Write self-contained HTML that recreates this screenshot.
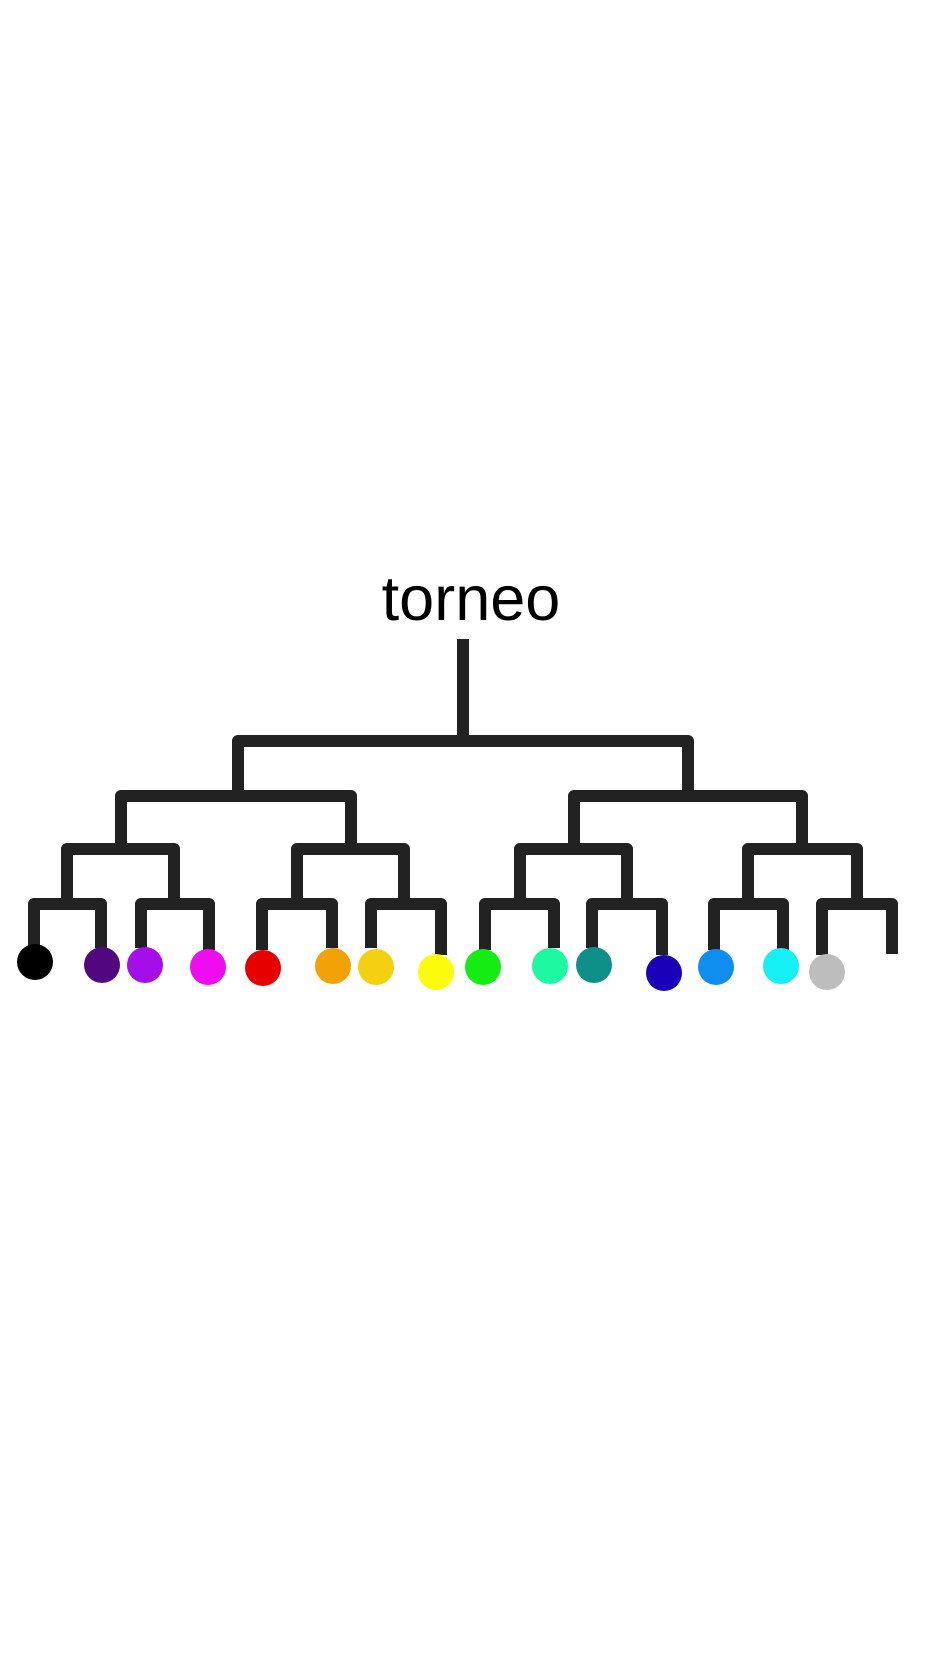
<!DOCTYPE html>
<html><head><style>
html,body{margin:0;padding:0;background:#fff;width:936px;height:1664px;overflow:hidden}
</style></head><body>
<svg width="936" height="1664" xmlns="http://www.w3.org/2000/svg">
<text x="471" y="620" font-family="Liberation Sans, Arial, sans-serif" font-size="63" text-anchor="middle" fill="#000">torneo</text>
<g stroke="#222" stroke-width="12" fill="none" stroke-linejoin="round">
<path d="M463 639V741"/>
<path d="M238 796V741H688V796"/>
<path d="M121 849V796H351V849"/>
<path d="M574 849V796H802V849"/>
<path d="M67 904V849H174V904"/>
<path d="M297 904V849H404V904"/>
<path d="M520 904V849H627V904"/>
<path d="M748 904V849H857V904"/>
<path d="M34 948V904H101V948"/>
<path d="M141 948V904H209V950"/>
<path d="M262 950V904H332V948"/>
<path d="M371 948V904H441V955"/>
<path d="M485 950V904H554V948"/>
<path d="M592 948V904H662V955"/>
<path d="M714 950V904H783V950"/>
<path d="M822 955V904H892V954"/>
</g>
<g>
<circle cx="35" cy="962" r="18" fill="#000"/>
<circle cx="102" cy="965" r="18" fill="#52067f"/>
<circle cx="145" cy="965" r="18" fill="#a40ee8"/>
<circle cx="208" cy="967" r="18" fill="#ee0cf0"/>
<circle cx="263" cy="968" r="18" fill="#e60000"/>
<circle cx="333" cy="966" r="18" fill="#f2a205"/>
<circle cx="376" cy="967" r="18" fill="#f5d010"/>
<circle cx="436" cy="972" r="18" fill="#fbfb0a"/>
<circle cx="483" cy="967" r="18" fill="#14ec14"/>
<circle cx="550" cy="966" r="18" fill="#1cf9a0"/>
<circle cx="594" cy="965" r="18" fill="#0e9088"/>
<circle cx="664" cy="973" r="18" fill="#1a00b8"/>
<circle cx="716" cy="967" r="18" fill="#108ef0"/>
<circle cx="781" cy="966" r="18" fill="#14f0f4"/>
<circle cx="827" cy="972" r="18" fill="#bdbdbd"/>
</g>
</svg>
</body></html>
